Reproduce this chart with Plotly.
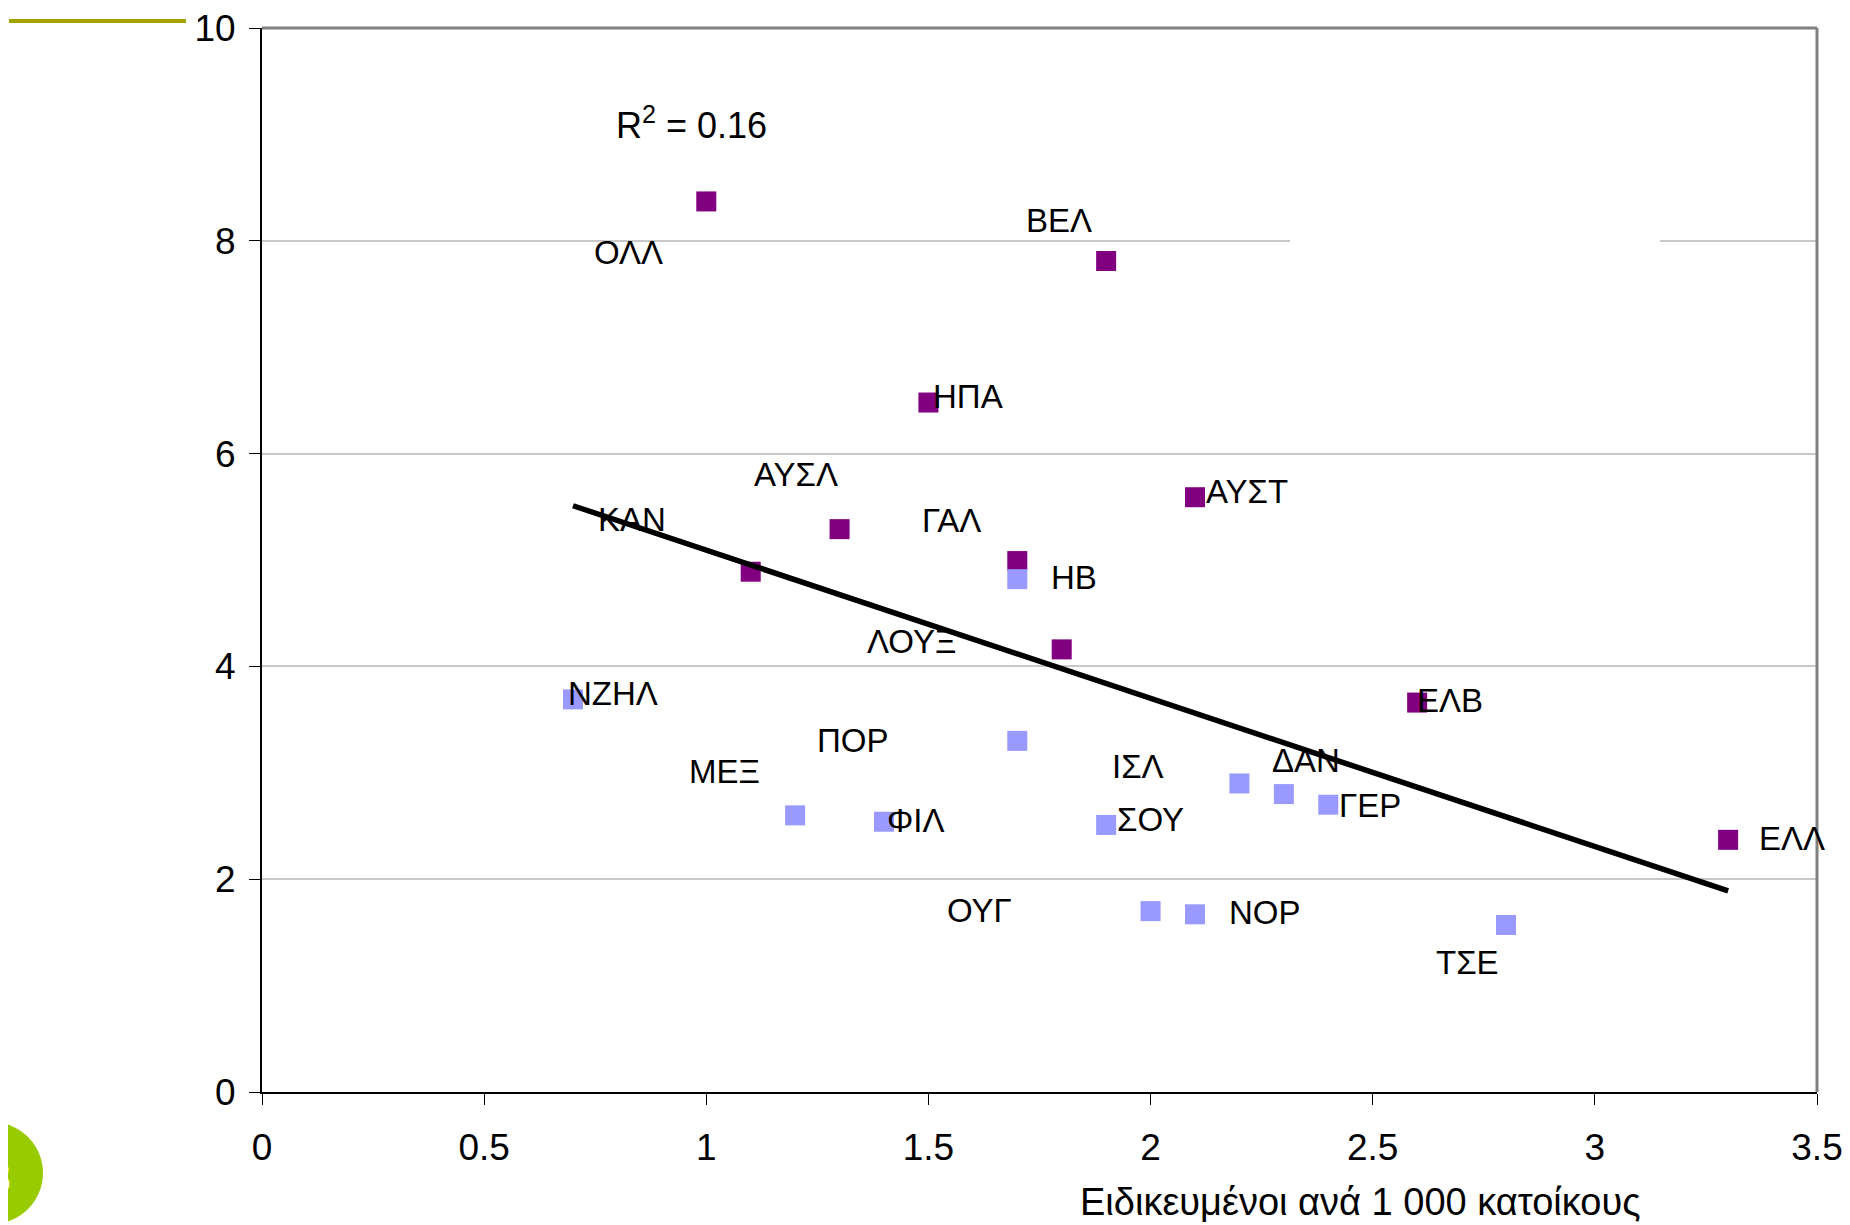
import plotly.graph_objects as go

# ---------------- data ----------------
purple_labels = ["ΟΛΛ", "ΒΕΛ", "ΗΠΑ", "ΑΥΣΤ", "ΑΥΣΛ", "ΓΑΛ", "ΚΑΝ", "ΛΟΥΞ", "ΕΛΒ", "ΕΛΛ"]
purple_x = [1.0, 1.9, 1.5, 2.1, 1.3, 1.7, 1.1, 1.8, 2.6, 3.3]
purple_y = [8.37, 7.81, 6.48, 5.59, 5.29, 4.99, 4.89, 4.16, 3.66, 2.37]

blue_labels = ["ΗΒ", "ΝΖΗΛ", "ΠΟΡ", "ΜΕΞ", "ΦΙΛ", "ΣΟΥ", "ΙΣΛ", "ΔΑΝ", "ΓΕΡ", "ΟΥΓ", "ΝΟΡ", "ΤΣΕ"]
blue_x = [1.7, 0.7, 1.7, 1.2, 1.4, 1.9, 2.2, 2.3, 2.4, 2.0, 2.1, 2.8]
blue_y = [4.82, 3.69, 3.30, 2.60, 2.54, 2.51, 2.90, 2.80, 2.70, 1.70, 1.67, 1.57]

trend_x = [0.7, 3.3]
trend_y = [5.51, 1.89]

r2_text = "R<sup>2</sup> = 0.16"
x_title = "Ειδικευμένοι ανά 1 000 κατοίκους"
x_ticks = [0, 0.5, 1, 1.5, 2, 2.5, 3, 3.5]
y_ticks = [0, 2, 4, 6, 8, 10]

# label offsets from their marker, in pixels (dx right, dy down)
label_offsets = {
    "ΟΛΛ": (-78, 51), "ΒΕΛ": (-47, -41), "ΗΠΑ": (40, -6), "ΑΥΣΤ": (52, -6),
    "ΑΥΣΛ": (-44, -55), "ΓΑΛ": (-66, -41), "ΚΑΝ": (-119, -52), "ΛΟΥΞ": (-150, -8),
    "ΕΛΒ": (33, -2), "ΕΛΛ": (64, -1),
    "ΗΒ": (57, -2), "ΝΖΗΛ": (40, -6), "ΠΟΡ": (-164, 0), "ΜΕΞ": (-71, -44),
    "ΦΙΛ": (32, -1), "ΣΟΥ": (44, -5), "ΙΣΛ": (-101, -17), "ΔΑΝ": (22, -34),
    "ΓΕΡ": (42, 1), "ΟΥΓ": (-171, -1), "ΝΟΡ": (70, -2), "ΤΣΕ": (-39, 38),
}

# ---------------- layout geometry ----------------
W, H = 1850, 1225
OFF = 8                      # page body margin
SL, SR, ST, SB = 262, 1817, 28, 1092   # plot area in screen pixels
L, R, T, B = SL - OFF, W - (SR - OFF), ST - OFF, H - (SB - OFF)
FONT = "Liberation Sans, Arial, sans-serif"


def px_x(sx):
    return (sx - SL) / (SR - SL)


def px_y(sy):
    return (SB - sy) / (SB - ST)


fig = go.Figure()

fig.add_trace(go.Scatter(
    x=purple_x, y=purple_y, mode="markers",
    marker=dict(symbol="square", size=20, color="#800080", line=dict(width=0)),
    showlegend=False, hoverinfo="skip"))
fig.add_trace(go.Scatter(
    x=blue_x, y=blue_y, mode="markers",
    marker=dict(symbol="square", size=20, color="#9999FF", line=dict(width=0)),
    showlegend=False, hoverinfo="skip"))
fig.add_trace(go.Scatter(
    x=trend_x, y=trend_y, mode="lines",
    line=dict(color="black", width=5.5),
    showlegend=False, hoverinfo="skip"))

annotations = []
for labels, xs, ys in ((purple_labels, purple_x, purple_y), (blue_labels, blue_x, blue_y)):
    for lab, xv, yv in zip(labels, xs, ys):
        dx, dy = label_offsets[lab]
        annotations.append(dict(
            x=xv, y=yv, xref="x", yref="y", text=lab, showarrow=False,
            xshift=dx, yshift=-dy, xanchor="center", yanchor="middle",
            font=dict(family=FONT, size=33, color="black")))

annotations.append(dict(
    x=px_x(691), y=px_y(123), xref="paper", yref="paper", text=r2_text,
    showarrow=False, xanchor="center", yanchor="middle",
    font=dict(family=FONT, size=36, color="black")))

annotations.append(dict(
    x=px_x(1360), y=px_y(1202), xref="paper", yref="paper", text=x_title,
    showarrow=False, xanchor="center", yanchor="middle",
    font=dict(family=FONT, size=38, color="black")))

annotations.append(dict(
    x=px_x(0), y=px_y(1177), xref="paper", yref="paper", text="8",
    showarrow=False, xanchor="center", yanchor="middle",
    font=dict(family="Liberation Serif, serif", size=44, color="white")))

shapes = [
    # white block interrupting the gridline at 8 (as in the original)
    dict(type="rect", xref="paper", yref="paper",
         x0=px_x(1290), x1=px_x(1660), y0=px_y(246), y1=px_y(234),
         fillcolor="white", line=dict(width=0), layer="above"),
    # grey top and right frame
    dict(type="line", xref="paper", yref="paper", x0=0, x1=1, y0=1, y1=1,
         line=dict(color="#808080", width=3)),
    dict(type="line", xref="paper", yref="paper", x0=1, x1=1, y0=0, y1=1,
         line=dict(color="#808080", width=3)),
    # olive decoration line (top-left)
    dict(type="line", xref="paper", yref="paper",
         x0=px_x(9), x1=px_x(186), y0=px_y(21), y1=px_y(21),
         line=dict(color="#A3A300", width=4)),
    # green slide-number disc (bottom-left)
    dict(type="circle", xref="paper", yref="paper",
         x0=px_x(-59), x1=px_x(43), y0=px_y(1224), y1=px_y(1122),
         fillcolor="#99CC00", line=dict(width=0), layer="above"),
]

fig.update_layout(
    width=W, height=H,
    margin=dict(l=L, r=R, t=T, b=B, pad=0, autoexpand=False),
    paper_bgcolor="white", plot_bgcolor="white",
    font=dict(family=FONT, color="black"),
    annotations=annotations, shapes=shapes,
    xaxis=dict(range=[0, 3.5], tickvals=x_ticks, showgrid=False, zeroline=False,
               automargin=False,
               showline=True, linecolor="black", linewidth=2,
               ticks="outside", ticklen=11, tickwidth=1, tickcolor="black",
               tickfont=dict(family=FONT, size=37, color="black"),
               ticklabelstandoff=11, ticklabeloverflow="allow"),
    yaxis=dict(range=[0, 10], tickvals=y_ticks, showgrid=True, gridcolor="#C8C8C8",
               gridwidth=1.5, zeroline=False, automargin=False,
               showline=True, linecolor="black", linewidth=2,
               ticks="outside", ticklen=11, tickwidth=1, tickcolor="black",
               tickfont=dict(family=FONT, size=37, color="black"),
               ticklabelstandoff=6, ticklabeloverflow="allow"),
)

fig.write_html("out.html")
